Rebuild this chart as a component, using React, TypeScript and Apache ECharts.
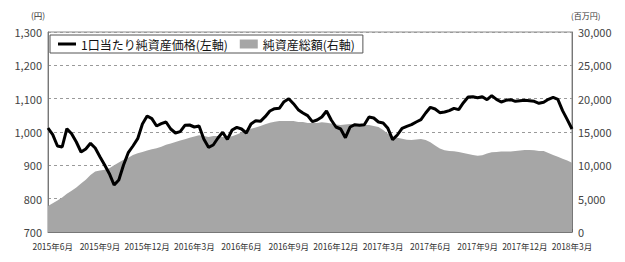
import React, { useEffect, useRef } from "react";
import * as echarts from "echarts";

// Quarterly tick labels (one every 10 weekly points, starting at point 1)
const tickLabels = [
  "2015年6月", "2015年9月", "2015年12月", "2016年3月", "2016年6月", "2016年9月",
  "2016年12月", "2017年3月", "2017年6月", "2017年9月", "2017年12月", "2018年3月",
];

// 1口当たり純資産価格 (円, left axis)
const navPerUnit = [
  1012, 992, 958, 955, 1010, 995, 970, 940, 949, 966,
  952, 926, 901, 875, 841, 856, 901, 938, 958, 980,
  1024, 1048, 1040, 1018, 1025, 1030, 1009, 997, 1001, 1020,
  1021, 1015, 1018, 979, 954, 961, 982, 999, 978, 1006,
  1014, 1009, 997, 1024, 1034, 1032, 1046, 1063, 1070, 1071,
  1091, 1100, 1085, 1067, 1057, 1049, 1031, 1036, 1045, 1063,
  1036, 1015, 1009, 983, 1015, 1022, 1020, 1022, 1045, 1042,
  1030, 1027, 1011, 977, 991, 1011, 1017, 1022, 1030, 1037,
  1057, 1074, 1069, 1058, 1060, 1064, 1071, 1067, 1088, 1105,
  1106, 1103, 1106, 1097, 1109, 1098, 1090, 1095, 1097, 1092,
  1094, 1095, 1094, 1092, 1086, 1089, 1098, 1104, 1098, 1064,
  1037, 1009,
];

// 純資産総額 (百万円, right axis)
const netAssets = [
  3900, 4320, 4740, 5180, 5720, 6180, 6690, 7260, 7830, 8550,
  9060, 9210, 9350, 9570, 10000, 10430, 10830, 11120, 11550, 11820,
  11990, 12240, 12420, 12560, 12800, 13080, 13280, 13500, 13710, 13900,
  14150, 14330, 14520, 14400, 14250, 14400, 14400, 14250, 14250, 14370,
  14630, 14910, 15180, 15480, 15680, 15900, 16170, 16400, 16550, 16650,
  16650, 16650, 16650, 16500, 16500, 16350, 16350, 16350, 16460, 16400,
  16260, 16110, 16050, 16110, 16200, 16150, 16050, 16050, 16050, 15900,
  15750, 15300, 14730, 14310, 14130, 13980, 13850, 13800, 13890, 13950,
  13800, 13470, 12990, 12510, 12250, 12150, 12130, 11990, 11850, 11700,
  11550, 11420, 11520, 11780, 11960, 12000, 12090, 12080, 12080, 12150,
  12210, 12300, 12300, 12270, 12150, 12150, 11850, 11550, 11280, 10990,
  10710, 10380,
];

const weeks = navPerUnit.map((_, i) => "w" + i);

const seriesNames = ["1口当たり純資産価格(左軸)", "純資産総額(右軸)"];

const FONT = "'Noto Sans CJK JP', 'Noto Sans', sans-serif";

// thin horizontal bar icon (tiny corner specks keep the bounding box tall)
const LINE_ICON =
  "path://M0,0L0.01,0L0.01,0.01ZM20,10L19.99,10L19.99,9.99ZM0,3.4L20,3.4L20,6.6L0,6.6Z";

const isTick = (i: number) => i % 10 === 1;
const fmt = (v: number) => v.toLocaleString("en-US");

export default function App() {
  const ref = useRef<HTMLDivElement>(null);

  useEffect(() => {
    if (!ref.current) return;
    const chart = echarts.init(ref.current, null, { renderer: "svg" });
    chart.setOption({
      animation: false,
      backgroundColor: "#ffffff",
      textStyle: { fontFamily: FONT },
      grid: {
        left: 48,
        right: 53,
        top: 32,
        bottom: 30,
        show: true,
        borderColor: "#8a8a8a",
        borderWidth: 1,
        containLabel: false,
        outerBoundsMode: "none",
      },
      legend: {
        left: 50,
        top: 35,
        orient: "horizontal",
        borderColor: "#555",
        borderWidth: 1,
        borderRadius: 0,
        backgroundColor: "#fff",
        padding: [3, 8, 3, 8],
        itemGap: 12,
        itemWidth: 18,
        itemHeight: 9,
        textStyle: { fontSize: 12, color: "#111", fontFamily: FONT },
        data: [
          { name: seriesNames[0], icon: LINE_ICON },
          { name: seriesNames[1], icon: "rect" },
        ],
      },
      xAxis: {
        type: "category",
        data: weeks,
        boundaryGap: false,
        axisLine: { show: true, lineStyle: { color: "#777" } },
        axisTick: {
          show: true,
          inside: true,
          length: 3,
          interval: (i: number) => isTick(i),
          lineStyle: { color: "#666" },
        },
        axisLabel: {
          interval: (i: number) => isTick(i),
          formatter: (v: string) => {
            const i = Number(v.slice(1));
            return isTick(i) ? tickLabels[(i - 1) / 10] : "";
          },
          fontSize: 8.5,
          color: "#333",
          margin: 10,
          fontFamily: FONT,
        },
        splitLine: { show: false },
      },
      yAxis: [
        {
          type: "value",
          min: 700,
          max: 1300,
          interval: 100,
          axisLine: { show: true, lineStyle: { color: "#777" } },
          axisTick: { show: false },
          axisLabel: {
            formatter: (v: number) => fmt(v),
            fontSize: 11,
            color: "#444",
            margin: 6,
            fontFamily: FONT,
          },
          splitLine: {
            show: true,
            lineStyle: { color: "#9a9a9a", type: [3, 3], width: 1 },
          },
        },
        {
          type: "value",
          min: 0,
          max: 30000,
          interval: 5000,
          position: "right",
          axisLine: { show: true, lineStyle: { color: "#777" } },
          axisTick: { show: false },
          axisLabel: {
            formatter: (v: number) => fmt(v),
            fontSize: 11,
            color: "#444",
            margin: 6,
            fontFamily: FONT,
          },
          splitLine: { show: false },
        },
      ],
      graphic: [
        {
          type: "text",
          left: 31,
          top: 11,
          style: { text: "(円)", fontSize: 8.5, fill: "#333", fontFamily: FONT },
        },
        {
          type: "text",
          left: 571,
          top: 11,
          style: { text: "(百万円)", fontSize: 8, fill: "#333", fontFamily: FONT },
        },
      ],
      series: [
        {
          name: seriesNames[1],
          type: "line",
          yAxisIndex: 1,
          data: netAssets,
          symbol: "none",
          color: "#a6a6a6",
          lineStyle: { width: 0, color: "#a6a6a6" },
          areaStyle: { color: "#a6a6a6", opacity: 1 },
          z: 2,
        },
        {
          name: seriesNames[0],
          type: "line",
          yAxisIndex: 0,
          data: navPerUnit,
          symbol: "none",
          color: "#000",
          lineStyle: { width: 3, color: "#000" },
          z: 3,
        },
      ],
    });
    return () => chart.dispose();
  }, []);

  return (
    <div
      ref={ref}
      style={{ position: "fixed", left: 0, top: 0, width: 625, height: 262 }}
    />
  );
}
